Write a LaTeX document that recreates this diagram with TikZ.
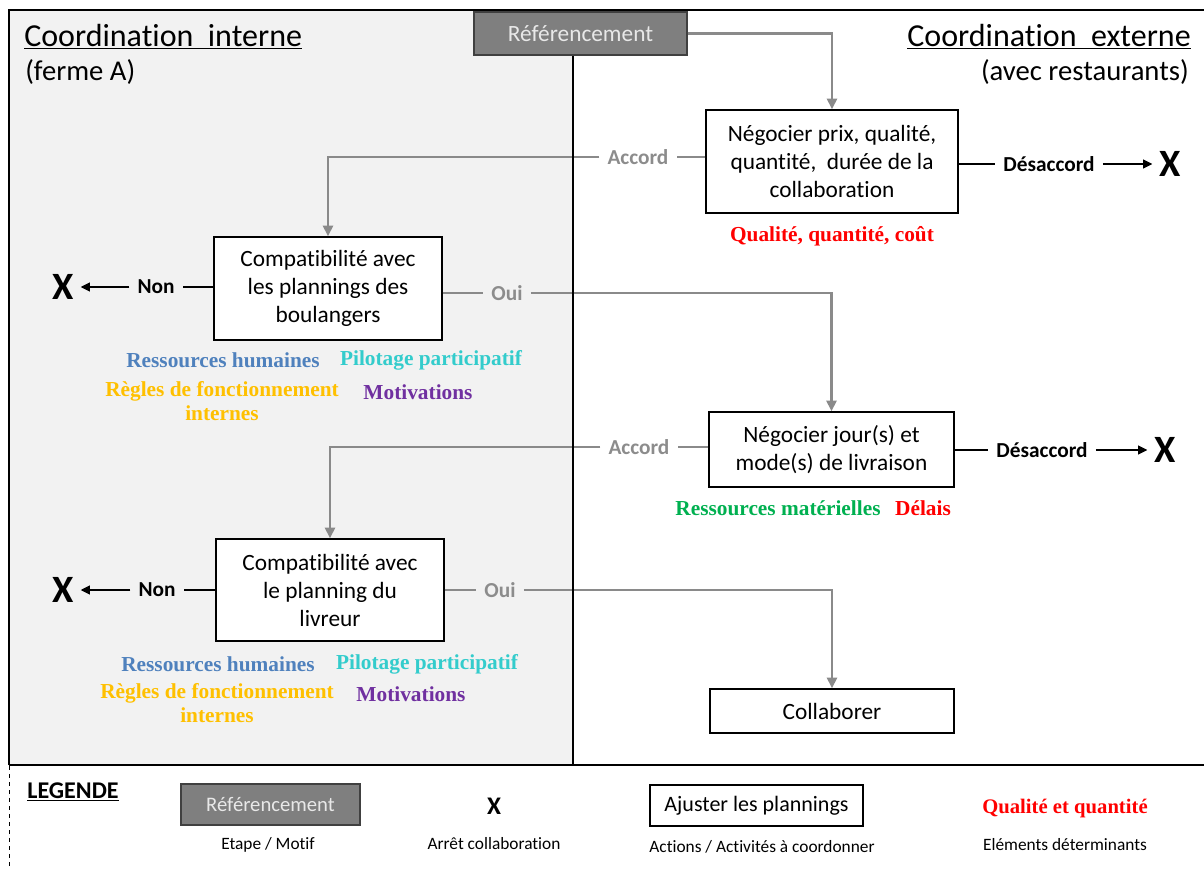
\documentclass[tikz,border=0pt]{standalone}
\usepackage{fontspec}
\setmainfont{Carlito}[Ligatures=NoCommon]
\newfontfamily\tnr{Liberation Serif}
\usetikzlibrary{arrows.meta}
\definecolor{panel}{HTML}{F2F2F2}
\definecolor{conngray}{HTML}{8A8A8A}
\definecolor{txtgray}{HTML}{8C8C8C}
\definecolor{refgray}{HTML}{7F7F7F}
\definecolor{reftxt}{HTML}{E8E8E8}
\definecolor{rhblue}{HTML}{4F81BD}
\definecolor{pilcyan}{HTML}{33CCCC}
\definecolor{rgold}{HTML}{FFC000}
\definecolor{motpurple}{HTML}{7030A0}
\definecolor{resgreen}{HTML}{00B050}
\definecolor{detred}{HTML}{FF0000}
\begin{document}
\begin{tikzpicture}[x=0.75pt,y=-0.75pt,
  actbox/.style={draw=black, line width=1.1pt, fill=white, align=center, inner sep=0pt, font=\fontsize{17.5}{21}\selectfont},
  refbox/.style={draw=black!75, line width=1.1pt, fill=refgray, text=reftxt, inner sep=0pt, font=\fontsize{17.5}{21}\selectfont},
  conn/.style={draw=conngray, line width=2.2pt},
  garrow/.style={conn, -{Triangle[length=8pt,width=7.5pt]}},
  blk/.style={draw=black, line width=1.6pt},
  barrow/.style={blk, -{Triangle[length=7pt,width=6.5pt]}},
  word/.style={font=\bfseries\fontsize{16}{19}\selectfont, inner sep=6pt},
  gword/.style={word, text=txtgray},
  xmark/.style={font=\bfseries\fontsize{29}{30}\selectfont, inner sep=5pt},
  factor/.style={font=\tnr\bfseries\fontsize{16}{18}\selectfont, inner sep=0pt, align=center},
  titletxt/.style={font=\fontsize{24}{28}\selectfont, inner sep=0pt},
  subtxt/.style={font=\fontsize{21.5}{24}\selectfont, inner sep=0pt},
  legtxt/.style={font=\fontsize{13}{15}\selectfont, inner sep=0pt},
  frame/.style={draw=black, line width=2.2pt}
]
\useasboundingbox (0,0) rectangle (1204,870);
% panels
\fill[panel] (9,10) rectangle (573,765);
\draw[frame] (9,765) -- (9,10) -- (1204,10);
\draw[frame] (9,765) -- (1204,765);
\draw[dashed, line width=0.6pt] (9,766) -- (9,870);

% titles
\node[titletxt, anchor=west] (tint) at (24,37) {\underline{Coordination\ \ interne}};
\node[subtxt, anchor=west] (sint) at (25,72) {(ferme A)};
\node[titletxt, anchor=east] (text) at (1191,37) {\underline{Coordination\ \ externe}};
\node[subtxt, anchor=east] (sext) at (1189,72) {(avec restaurants)};

% main boxes
\node[refbox, minimum width=159.75pt, minimum height=32.25pt] (ref) at (580.5,33.5) {Référencement};
\node[actbox, minimum width=189pt, minimum height=77.25pt] (b1) at (832,161.5) {Négocier prix, qualité,\\quantité,\ \ durée de la\\collaboration};
\node[actbox, minimum width=171pt, minimum height=77.25pt] (b2) at (328,288.5) {Compatibilité avec\\les plannings des\\boulangers};
\node[actbox, minimum width=183.75pt, minimum height=56.25pt] (b3) at (831.5,449.5) {Négocier jour(s) et\\mode(s) de livraison};
\node[actbox, minimum width=171pt, minimum height=76.5pt] (b4) at (330,590) {Compatibilité avec\\le planning du\\livreur};
\node[actbox, minimum width=183pt, minimum height=33pt] (b5) at (832,711) {Collaborer};

% branch labels
\node[gword] (acc1) at (638,157) {Accord};
\node[word] (des1) at (1049,164) {Désaccord};
\node[xmark] (x1) at (1170,164) {X};
\node[word] (non1) at (156,287) {Non};
\node[xmark] (x2) at (63,287) {X};
\node[gword] (oui1) at (507,293) {Oui};
\node[gword] (acc2) at (639,447) {Accord};
\node[word] (des2) at (1042,450) {Désaccord};
\node[xmark] (x3) at (1165,450) {X};
\node[word] (non2) at (157,590) {Non};
\node[xmark] (x4) at (63,590) {X};
\node[gword] (oui2) at (500,590) {Oui};

% factors
\node[factor, text=detred] (f1) at (832,236) {Qualité, quantité, coût};
\node[factor, text=rhblue] (f2) at (223,360) {Ressources humaines};
\node[factor, text=pilcyan] (f3) at (431,360) {Pilotage participatif};
\node[factor, text=rgold, anchor=north] (f4) at (222,381) {Règles de fonctionnement\\internes};
\node[factor, text=motpurple] (f5) at (418,392) {Motivations};
\node[factor, text=resgreen] (f6) at (778,508) {Ressources matérielles};
\node[factor, text=detred] (f7) at (923,508) {Délais};
\node[factor, text=rhblue] (f8) at (218,664) {Ressources humaines};
\node[factor, text=pilcyan] (f9) at (427,664) {Pilotage participatif};
\node[factor, text=rgold, anchor=north] (f10) at (217,683) {Règles de fonctionnement\\internes};
\node[factor, text=motpurple] (f11) at (411,694) {Motivations};

% connectors
\draw[garrow] (ref.east) -| (b1.north);
\draw[conn] (b1.west |- acc1) -- (acc1.east);
\draw[garrow] (acc1.west) -| (b2.north);
\draw[blk] (b1.east |- des1) -- (des1.west);
\draw[barrow] (des1.east) -- (x1.west);
\draw[blk] (b2.west |- non1) -- (non1.east);
\draw[barrow] (non1.west) -- (x2.east);
\draw[conn] (b2.east |- oui1) -- (oui1.west);
\draw[garrow] (oui1.east) -| (b3.north);
\draw[conn] (b3.west |- acc2) -- (acc2.east);
\draw[garrow] (acc2.west) -| (b4.north);
\draw[blk] (b3.east |- des2) -- (des2.west);
\draw[barrow] (des2.east) -- (x3.west);
\draw[blk] (b4.west |- non2) -- (non2.east);
\draw[barrow] (non2.west) -- (x4.east);
\draw[conn] (b4.east |- oui2) -- (oui2.west);
\draw[garrow] (oui2.east) -| (b5.north);

% divider on top
\draw[frame] (ref.south -| 573,0) -- (573,765);

% legend
\node[font=\bfseries\fontsize{18}{20}\selectfont, inner sep=0pt] (leg) at (73,792) {\underline{LEGENDE}};
\node[refbox, minimum width=134.25pt, minimum height=30.75pt, font=\fontsize{15.5}{18}\selectfont] (lref) at (270.5,804.5) {Référencement};
\node[legtxt] (lref2) at (268,845) {Etape / Motif};
\node[font=\bfseries\fontsize{19}{22}\selectfont, inner sep=0pt] (lx) at (494,806) {X};
\node[legtxt] (lx2) at (494,844) {Arrêt collaboration};
\node[actbox, minimum width=159.75pt, minimum height=30.75pt, font=\fontsize{16.5}{19}\selectfont] (lact) at (756.5,805.5) {Ajuster les plannings};
\node[legtxt] (lact2) at (762,847) {Actions / Activités à coordonner};
\node[factor, text=detred, font=\tnr\bfseries\fontsize{15.5}{18}\selectfont] (ldet) at (1065,809) {Qualité et quantité};
\node[legtxt] (ldet2) at (1065,845) {Eléments déterminants};
\end{tikzpicture}
\end{document}
